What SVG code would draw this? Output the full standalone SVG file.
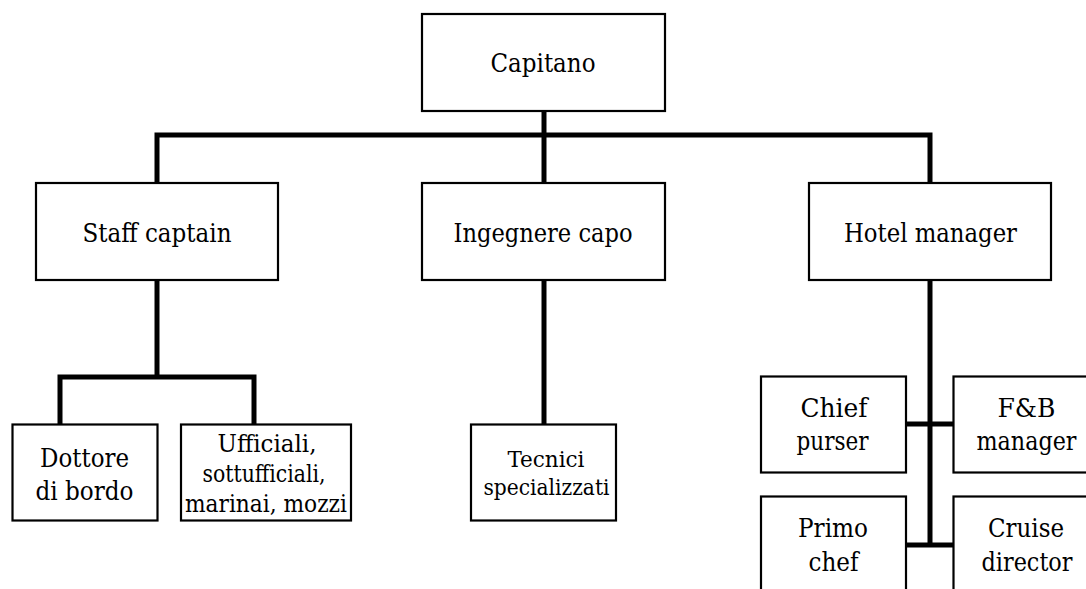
<svg xmlns="http://www.w3.org/2000/svg" width="1086" height="589" viewBox="0 0 1086 589">
<style>
.box{fill:#fff;stroke:#000;stroke-width:2.2}
text{font-family:'DejaVu Serif Condensed','DejaVu Serif','Liberation Serif',serif;font-size:26px;fill:#000;text-anchor:middle}
.s{font-size:24px}
.xs{font-size:22.5px}
.c{fill:none;stroke:#000;stroke-width:5;stroke-linejoin:miter;stroke-linecap:butt}
</style>
<rect width="1086" height="589" fill="#fff"/>
<g id="connectors">
<line class="c" x1="544" y1="111" x2="544" y2="183"/>
<polyline class="c" points="157,183 157,135 930,135 930,183"/>
<polyline class="c" points="157,280 157,377"/>
<polyline class="c" points="60,424 60,377 254,377 254,424"/>
<line class="c" x1="544" y1="280" x2="544" y2="424"/>
<line class="c" x1="930" y1="280" x2="930" y2="547"/>
<line class="c" x1="906" y1="424" x2="953" y2="424"/>
<line class="c" x1="906" y1="545" x2="953" y2="545"/>
</g>
<g id="capitano">
<rect class="box" x="422" y="14" width="243" height="97"/>
<text x="543" y="72" textLength="105" lengthAdjust="spacingAndGlyphs">Capitano</text>
</g>
<g id="staff-captain">
<rect class="box" x="36" y="183" width="242" height="97"/>
<text x="157" y="242" textLength="149" lengthAdjust="spacingAndGlyphs">Staff captain</text>
</g>
<g id="ingegnere-capo">
<rect class="box" x="422" y="183" width="243" height="97"/>
<text x="543" y="242" textLength="179" lengthAdjust="spacingAndGlyphs">Ingegnere capo</text>
</g>
<g id="hotel-manager">
<rect class="box" x="809" y="183" width="242" height="97"/>
<text x="930.5" y="242" textLength="173" lengthAdjust="spacingAndGlyphs">Hotel manager</text>
</g>
<g id="dottore">
<rect class="box" x="12.5" y="424.5" width="145" height="96"/>
<text x="84.5" y="467" textLength="89" lengthAdjust="spacingAndGlyphs">Dottore</text>
<text x="84.5" y="500" textLength="98" lengthAdjust="spacingAndGlyphs">di bordo</text>
</g>
<g id="ufficiali">
<rect class="box" x="181" y="424.5" width="170" height="96"/>
<text class="s" x="267" y="452" textLength="99" lengthAdjust="spacingAndGlyphs">Ufficiali,</text>
<text class="s" x="264" y="482" textLength="123" lengthAdjust="spacingAndGlyphs">sottufficiali,</text>
<text class="s" x="266" y="512" textLength="162" lengthAdjust="spacingAndGlyphs">marinai, mozzi</text>
</g>
<g id="tecnici">
<rect class="box" x="471" y="424.5" width="145" height="96"/>
<text class="xs" x="546" y="467" textLength="77" lengthAdjust="spacingAndGlyphs">Tecnici</text>
<text class="xs" x="546.5" y="495" textLength="126" lengthAdjust="spacingAndGlyphs">specializzati</text>
</g>
<g id="chief-purser">
<rect class="box" x="761" y="376.5" width="145" height="96"/>
<text x="834" y="417" textLength="67" lengthAdjust="spacingAndGlyphs">Chief</text>
<text x="832.5" y="450" textLength="72" lengthAdjust="spacingAndGlyphs">purser</text>
</g>
<g id="fb-manager">
<rect class="box" x="953.5" y="376.5" width="146" height="96"/>
<text x="1026.5" y="417" textLength="58" lengthAdjust="spacingAndGlyphs">F&amp;B</text>
<text x="1026.5" y="450" textLength="100" lengthAdjust="spacingAndGlyphs">manager</text>
</g>
<g id="primo-chef">
<rect class="box" x="761" y="496.5" width="145" height="100"/>
<text x="833" y="537" textLength="70" lengthAdjust="spacingAndGlyphs">Primo</text>
<text x="833.5" y="571" textLength="50" lengthAdjust="spacingAndGlyphs">chef</text>
</g>
<g id="cruise-director">
<rect class="box" x="953.5" y="496.5" width="146" height="100"/>
<text x="1026" y="537" textLength="76" lengthAdjust="spacingAndGlyphs">Cruise</text>
<text x="1027" y="571" textLength="91" lengthAdjust="spacingAndGlyphs">director</text>
</g>
</svg>
